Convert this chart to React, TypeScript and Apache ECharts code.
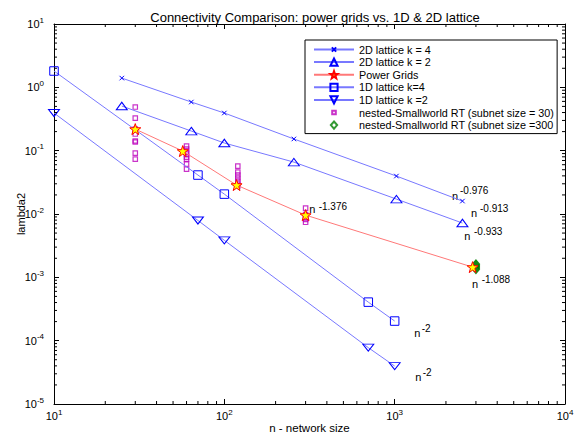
import React, { useEffect, useRef } from 'react';
import * as echarts from 'echarts';

const FONT = '"Liberation Sans", Arial, Helvetica, sans-serif';

// ---- data ----
const n2D = [25, 64, 100, 256, 1024, 2500];
const lattice2Dk4 = [1.40, 0.586, 0.393, 0.153, 0.0397, 0.016];
const lattice2Dk2 = [0.507, 0.204, 0.132, 0.066, 0.0172, 0.0072];

const n1D = [10, 70, 100, 700, 1000];
const lattice1Dk4 = [1.81, 0.0412, 0.0206, 4.06e-4, 2.04e-4];
const lattice1Dk2 = [0.393, 0.0079, 0.00384, 7.76e-5, 3.97e-5];

const nPower = [30, 57, 118, 300, 2869];
const powerGrids = [0.219, 0.0986, 0.0286, 0.0096, 0.00145];

const nested30Sizes = [
  30, 30, 30, 30, 30, 30, 30, 30,
  60, 60, 60, 60, 60, 60, 60, 60,
  120, 120, 120, 120, 120, 120, 120,
  300, 300, 300, 300, 300,
];
const nested30Values = [
  0.488, 0.327, 0.219, 0.183, 0.142, 0.137, 0.0915, 0.0736,
  0.118, 0.106, 0.095, 0.088, 0.079, 0.0736, 0.0615, 0.051,
  0.057, 0.046, 0.0412, 0.037, 0.033, 0.0297, 0.0277,
  0.0124, 0.0098, 0.0088, 0.0082, 0.0074,
];

const nested300Sizes = [3000, 3000, 3000, 3000, 3000, 3000, 3000];
const nested300Values = [0.00163, 0.00158, 0.00153, 0.00148, 0.00143, 0.00138, 0.00133];

const seriesNames = [
  '2D lattice k = 4',
  '2D lattice k = 2',
  'Power Grids',
  '1D lattice k=4',
  '1D lattice k =2',
  'nested-Smallworld RT (subnet size = 30)',
  'nested-Smallworld RT (subnet size =300',
];

const slopeLabels = ['-0.976', '-0.913', '-0.933', '-1.088', '-1.376', '-2', '-2'];

const X_MIN = 10;
const X_MAX = 10000;
const Y_MIN = 1e-5;
const Y_MAX = 10;
const xDecades = [10, 100, 1000];
const yDecades = [1e-5, 1e-4, 1e-3, 1e-2, 1e-1, 1];
const minorMultipliers = [2, 3, 4, 5, 6, 7, 8, 9];

const title = 'Connectivity Comparison: power grids vs. 1D & 2D lattice';
const xName = 'n - network size';
const yName = 'lambda2';

// ---- symbols ----
const CROSS = 'path://M0,0M10,10M2,2L8,8M8,2L2,8';
const TRI_UP = 'path://M5,0L10,7L0,7Z';
const TRI_DOWN = 'path://M0,0L10,0L5,7Z';
const SQUARE = 'path://M0,0L10,0L10,10L0,10Z';
const STAR = 'path://M10,0L12.35,6.76L19.51,6.91L13.8,11.24L15.88,18.09L10,14L4.12,18.09L6.2,11.24L0.49,6.91L7.65,6.76Z';
const SMALL_SQ = 'path://M0,0M10,10M3,3L7,3L7,7L3,7Z';
const DIAMOND = 'path://M0,0M10,10M5,1L8.5,5L5,9L1.5,5Z';

const BLUE_LINE = '#7878ff';
const BLUE = '#0000ff';
const RED_LINE = '#ff7878';
const MAGENTA = '#bb00bb';
const GREEN = '#008000';

const pair = (xs: number[], ys: number[]) => xs.map((x, i) => [x, ys[i]]);

const tickFormatter = (v: number) => {
  const e = Math.round(Math.log10(v));
  return `{b|10}{s|${e}}`;
};
const tickRich = {
  b: { fontSize: 11, lineHeight: 16, fontFamily: FONT, color: '#000' },
  s: { fontSize: 8, lineHeight: 8, verticalAlign: 'top', fontFamily: FONT, color: '#000' },
};

function annotation(nx: number, ny: number, sx: number, sy: number, sup: string) {
  return [
    {
      type: 'text',
      x: nx,
      y: ny,
      style: { text: 'n', fontSize: 11, fontFamily: FONT, fill: '#000', align: 'left', verticalAlign: 'middle' },
    },
    {
      type: 'text',
      x: sx,
      y: sy,
      style: { text: sup, fontSize: 10, fontFamily: FONT, fill: '#000', align: 'left', verticalAlign: 'middle' },
    },
  ];
}

export default function App() {
  const ref = useRef<HTMLDivElement>(null);

  useEffect(() => {
    if (!ref.current) return;
    const chart = echarts.init(ref.current, undefined, { renderer: 'svg' });

    const minorData: number[][] = [];
    xDecades.forEach((d) => minorMultipliers.forEach((k) => minorData.push([k * d, Y_MIN, 0])));
    yDecades.forEach((d) => minorMultipliers.forEach((k) => minorData.push([X_MIN, k * d, 1])));

    const axisLineStyle = { color: '#000', width: 1 };
    const baseX = {
      type: 'log',
      logBase: 10,
      min: X_MIN,
      max: X_MAX,
      interval: 1,
      splitLine: { show: false },
      axisLine: { show: true, lineStyle: axisLineStyle },
      axisTick: { show: true, inside: true, length: 5, lineStyle: axisLineStyle },
    };
    const baseY = {
      type: 'log',
      logBase: 10,
      min: Y_MIN,
      max: Y_MAX,
      interval: 1,
      splitLine: { show: false },
      axisLine: { show: true, lineStyle: axisLineStyle },
      axisTick: { show: true, inside: true, length: 5, lineStyle: axisLineStyle },
    };

    const ann = [
      ...annotation(452, 196, 460, 190.3, slopeLabels[0]),
      ...annotation(471, 213, 480, 208, slopeLabels[1]),
      ...annotation(464.3, 236.3, 474, 231.3, slopeLabels[2]),
      ...annotation(472, 284, 481.7, 279.3, slopeLabels[3]),
      ...annotation(309.3, 209, 318.7, 206, slopeLabels[4]),
      ...annotation(414.3, 333.3, 421.7, 328.7, slopeLabels[5]),
      ...annotation(415.3, 376.7, 422.7, 372, slopeLabels[6]),
    ];

    chart.setOption({
      animation: false,
      backgroundColor: '#fff',
      textStyle: { fontFamily: FONT },
      title: {
        text: title,
        left: 310,
        top: 6,
        textAlign: 'center',
        textStyle: { fontSize: 13, fontWeight: 'normal', color: '#000', fontFamily: FONT },
      },
      grid: { left: 54, right: 9, top: 24, bottom: 31, containLabel: false, outerBoundsMode: 'none' },
      xAxis: [
        {
          ...baseX,
          position: 'bottom',
          name: xName,
          nameLocation: 'middle',
          nameGap: 18,
          nameMoveOverlap: false,
          nameTextStyle: { fontSize: 11.5, color: '#000', fontFamily: FONT },
          axisLabel: { margin: 4, formatter: tickFormatter, rich: tickRich },
        },
        { ...baseX, position: 'top', axisLabel: { show: false } },
      ],
      yAxis: [
        {
          ...baseY,
          position: 'left',
          name: yName,
          nameLocation: 'middle',
          nameGap: 28,
          nameMoveOverlap: false,
          nameTextStyle: { fontSize: 11, color: '#000', fontFamily: FONT },
          axisLabel: { margin: 10, formatter: tickFormatter, rich: tickRich },
        },
        { ...baseY, position: 'right', axisLabel: { show: false } },
      ],
      legend: {
        orient: 'vertical',
        left: 305,
        top: 40,
        padding: [4, 3, 3, 8],
        itemWidth: 40,
        itemHeight: 9,
        itemGap: 1.6,
        borderColor: '#000',
        borderWidth: 1,
        backgroundColor: '#fff',
        selectedMode: false,
        textStyle: { fontSize: 10.8, lineHeight: 10, color: '#000', fontFamily: FONT },
        data: seriesNames,
        z: 20,
      },
      series: [
        {
          name: seriesNames[0],
          type: 'line',
          data: pair(n2D, lattice2Dk4),
          symbol: CROSS,
          symbolSize: 7.5,
          showAllSymbol: true,
          lineStyle: { color: BLUE_LINE, width: 1 },
          itemStyle: { color: BLUE, borderColor: BLUE, borderWidth: 1 },
        },
        {
          name: seriesNames[1],
          type: 'line',
          data: pair(n2D, lattice2Dk2),
          symbol: TRI_UP,
          symbolSize: [11, 7.5],
          showAllSymbol: true,
          lineStyle: { color: BLUE_LINE, width: 1 },
          itemStyle: { color: 'rgba(255,255,255,0)', borderColor: BLUE, borderWidth: 1 },
        },
        {
          name: seriesNames[2],
          type: 'line',
          data: pair(nPower, powerGrids),
          symbol: STAR,
          symbolSize: 11,
          showAllSymbol: true,
          lineStyle: { color: RED_LINE, width: 1 },
          itemStyle: { color: '#ffff00', borderColor: '#ff0000', borderWidth: 1 },
        },
        {
          name: seriesNames[3],
          type: 'line',
          data: pair(n1D, lattice1Dk4),
          symbol: SQUARE,
          symbolSize: 8.5,
          showAllSymbol: true,
          lineStyle: { color: BLUE_LINE, width: 1 },
          itemStyle: { color: 'rgba(255,255,255,0)', borderColor: BLUE, borderWidth: 1 },
        },
        {
          name: seriesNames[4],
          type: 'line',
          data: pair(n1D, lattice1Dk2),
          symbol: TRI_DOWN,
          symbolSize: [11, 7],
          showAllSymbol: true,
          lineStyle: { color: BLUE_LINE, width: 1 },
          itemStyle: { color: 'rgba(255,255,255,0)', borderColor: BLUE, borderWidth: 1 },
        },
        {
          name: seriesNames[5],
          type: 'scatter',
          data: pair(nested30Sizes, nested30Values),
          symbol: SMALL_SQ,
          symbolSize: 11,
          itemStyle: { color: 'rgba(255,255,255,0)', borderColor: MAGENTA, borderWidth: 1.2 },
        },
        {
          name: seriesNames[6],
          type: 'scatter',
          data: pair(nested300Sizes, nested300Values),
          symbol: DIAMOND,
          symbolSize: 10,
          itemStyle: { color: 'rgba(255,255,255,0)', borderColor: GREEN, borderWidth: 1.2 },
        },
        {
          type: 'custom',
          silent: true,
          clip: false,
          z: 5,
          data: minorData,
          renderItem: (params: any, api: any) => {
            const v = api.value(0);
            const w = api.value(1);
            const kind = api.value(2);
            const st = { stroke: '#000', lineWidth: 1 };
            if (kind === 0) {
              const b = api.coord([v, Y_MIN]);
              const t = api.coord([v, Y_MAX]);
              return {
                type: 'group',
                children: [
                  { type: 'line', shape: { x1: b[0], y1: b[1], x2: b[0], y2: b[1] - 3 }, style: st },
                  { type: 'line', shape: { x1: t[0], y1: t[1], x2: t[0], y2: t[1] + 3 }, style: st },
                ],
              };
            }
            const l = api.coord([X_MIN, w]);
            const r = api.coord([X_MAX, w]);
            return {
              type: 'group',
              children: [
                { type: 'line', shape: { x1: l[0], y1: l[1], x2: l[0] + 3, y2: l[1] }, style: st },
                { type: 'line', shape: { x1: r[0], y1: r[1], x2: r[0] - 3, y2: r[1] }, style: st },
              ],
            };
          },
        },
      ],
      graphic: ann,
    });

    return () => chart.dispose();
  }, []);

  return (
    <div
      ref={ref}
      style={{ position: 'fixed', left: 0, top: 0, width: 574, height: 435, background: '#fff' }}
    />
  );
}
